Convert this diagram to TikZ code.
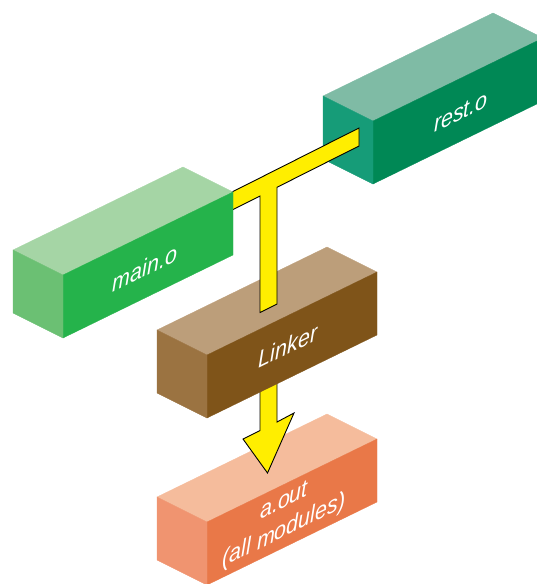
\documentclass[tikz,border=0pt]{standalone}
\usepackage{fontspec}
\setmainfont{Liberation Sans}
\definecolor{mainTop}{HTML}{A5D5A5}
\definecolor{mainFront}{HTML}{25B34B}
\definecolor{mainSide}{HTML}{6BC073}
\definecolor{restTop}{HTML}{7FBBA5}
\definecolor{restFront}{HTML}{008855}
\definecolor{restSide}{HTML}{169C78}
\definecolor{linkTop}{HTML}{BC9E7A}
\definecolor{linkFront}{HTML}{7F5419}
\definecolor{linkSide}{HTML}{9B7341}
\definecolor{outTop}{HTML}{F5BC9C}
\definecolor{outFront}{HTML}{E97848}
\definecolor{outSide}{HTML}{F09470}
\definecolor{arrowYellow}{HTML}{FFEE00}
\newcommand\isobox[4]{%
  \filldraw[#2, line width=0.3pt] (#1) -- ++(170,-83) -- ++(-50,-25) -- ++(-170,83) -- cycle;
  \filldraw[#3, line width=0.3pt] (#1) -- ++(170,-83) -- ++(0,63) -- ++(-170,83) -- cycle;
  \filldraw[#4, line width=0.3pt] (#1) -- ++(-50,-25) -- ++(0,63) -- ++(50,25) -- cycle;
}
\begin{document}
\begin{tikzpicture}[x=1pt,y=-1pt,
  lbl/.style={text=white, font=\fontsize{21.5}{27}\selectfont\itshape, yslant=0.49, yscale=1.1, inner sep=0pt, align=center},
  arrowshape/.style={fill=arrowYellow, draw=black, line width=0.9pt, line join=miter}]
\useasboundingbox (0,0) rectangle (537,584);
\coordinate (outC) at (207,522);
\coordinate (linkC) at (207,355);
\coordinate (restC) at (373,121);
\coordinate (mainC) at (63,275);
% a.out
\isobox{outC}{outTop}{outFront}{outSide}
\begin{scope}[shift={(284,517)}]
  \node[lbl] (aout) at (0,0) {a.out\\(all modules)};
\end{scope}
% lower arrow
\draw[arrowshape] (260,375) -- (260,430.5) -- (243,439) -- (267.5,473) -- (294,413) -- (277,422) -- (277,375) -- cycle;
% Linker
\isobox{linkC}{linkTop}{linkFront}{linkSide}
\begin{scope}[shift={(288,346)}]
  \node[lbl] (linker) at (0,0) {Linker};
\end{scope}
% rest.o
\isobox{restC}{restTop}{restFront}{restSide}
\begin{scope}[shift={(461,112)}]
  \node[lbl] (rest) at (0,0) {rest.o};
\end{scope}
% T connector
\draw[arrowshape] (231,192.5) -- (359,128) -- (359,146) -- (277,187.3) -- (277,304) -- (260,312.5) -- (260,196) -- (231,210.5) -- cycle;
% main.o
\isobox{mainC}{mainTop}{mainFront}{mainSide}
\begin{scope}[shift={(145,268)}]
  \node[lbl] (main) at (0,0) {main.o};
\end{scope}
\end{tikzpicture}
\end{document}
